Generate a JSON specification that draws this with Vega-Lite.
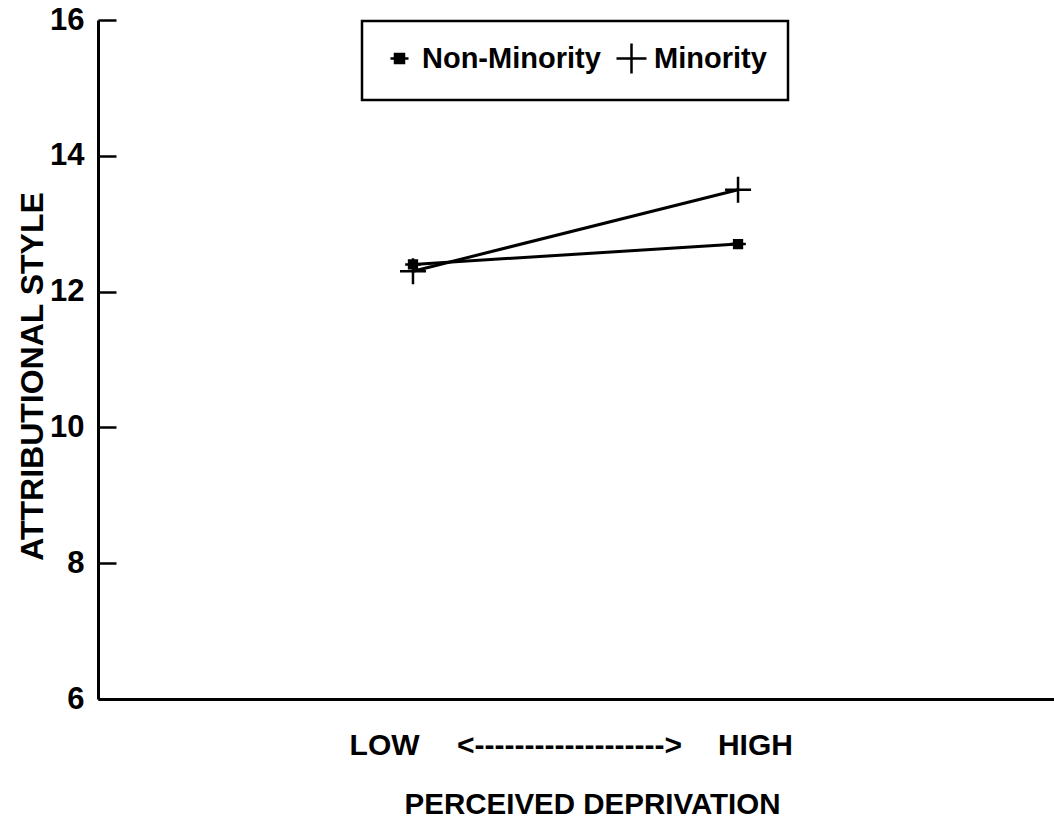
{
  "$schema": "https://vega.github.io/schema/vega-lite/v6.json",
  "width": 956,
  "height": 679,
  "autosize": {"type": "none"},
  "padding": {"left": 98, "top": 20, "right": 0, "bottom": 128},
  "background": "white",
  "config": {"view": {"stroke": null}, "font": "Liberation Sans", "legend": {"strokeWidth": 2.5}},
  "data": {
    "values": [
      {"deprivation": 1, "group": "Non-Minority", "style": 12.4},
      {"deprivation": 2, "group": "Non-Minority", "style": 12.7},
      {"deprivation": 1, "group": "Minority", "style": 12.3},
      {"deprivation": 2, "group": "Minority", "style": 13.5}
    ]
  },
  "encoding": {
    "x": {
      "field": "deprivation",
      "type": "quantitative",
      "scale": {"domain": [0.031, 2.972], "nice": false, "zero": false},
      "axis": {
        "title": "PERCEIVED DEPRIVATION",
        "values": [0.911, 1.48, 2.052],
        "labelExpr": "datum.value < 1.2 ? 'LOW' : datum.value < 1.8 ? '<------------------->' : 'HIGH'",
        "ticks": false,
        "grid": false,
        "domainColor": "black",
        "domainWidth": 3,
        "labelFontSize": 30,
        "labelFontWeight": "bold",
        "labelColor": "black",
        "labelBaseline": "middle",
        "labelPadding": 46,
        "labelLimit": 0,
        "labelFlush": false,
        "labelOverlap": false,
        "titleFontSize": 29.5,
        "titleFontWeight": "bold",
        "titleColor": "black",
        "titleX": 494,
        "titleY": 114,
        "titleBaseline": "alphabetic",
        "titleAlign": "center",
        "titleLimit": 0
      }
    },
    "y": {
      "field": "style",
      "type": "quantitative",
      "scale": {"domain": [6, 16], "nice": false, "zero": false},
      "axis": {
        "title": "ATTRIBUTIONAL STYLE",
        "values": [6, 8, 10, 12, 14, 16],
        "grid": false,
        "domainColor": "black",
        "domainWidth": 3,
        "tickColor": "black",
        "tickWidth": 2.5,
        "tickSize": -18,
        "labelFontSize": 31,
        "labelFontWeight": "bold",
        "labelColor": "black",
        "labelPadding": 32,
        "labelBaseline": "middle",
        "titleFontSize": 32,
        "titleFontWeight": "bold",
        "titleColor": "black",
        "titleX": -66,
        "titleY": 356,
        "titleAngle": -90,
        "titleBaseline": "middle",
        "titleAlign": "center",
        "titleLimit": 0
      }
    }
  },
  "layer": [
    {
      "mark": {"type": "line", "color": "black", "strokeWidth": 3},
      "encoding": {"detail": {"field": "group"}}
    },
    {
      "mark": {"type": "point", "filled": false, "fill": "black", "stroke": "black", "strokeWidth": 2.5, "size": 676, "opacity": 1},
      "encoding": {
        "shape": {
          "field": "group",
          "type": "nominal",
          "scale": {
            "domain": ["Non-Minority", "Minority"],
            "range": ["M-0.6,0H0.6M-0.3,-0.3H0.3V0.3H-0.3Z", "M-1,0H1M0,-1V1"]
          },
          "legend": {
            "title": null,
            "orient": "none",
            "legendX": 264,
            "legendY": 1,
            "direction": "horizontal",
            "gridAlign": "none",
            "strokeColor": "black",
            "padding": 21,
            "symbolSize": 900,
            "symbolStrokeWidth": 2.5,
            "labelFontSize": 29,
            "labelFontWeight": "bold",
            "labelColor": "black",
            "labelLimit": 0,
            "labelOffset": 6,
            "columnPadding": 10
          }
        }
      }
    }
  ]
}
